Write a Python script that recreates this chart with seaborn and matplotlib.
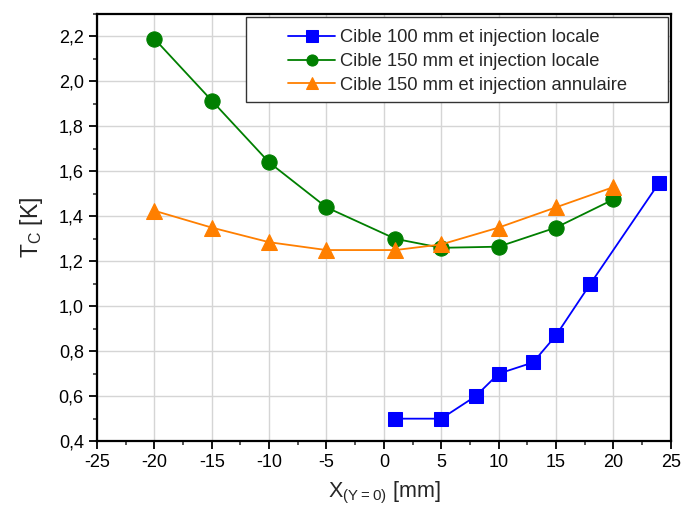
import numpy as np
import pandas as pd
import matplotlib
matplotlib.use('Agg')
import matplotlib.pyplot as plt
from matplotlib.ticker import MultipleLocator, FuncFormatter
from matplotlib.patches import Rectangle
import seaborn as sns

# Data
x_100_local = [1, 5, 8, 10, 13, 15, 18, 24]
tc_100_local = [0.50, 0.50, 0.60, 0.70, 0.75, 0.87, 1.10, 1.55]

x_150_local = [-20, -15, -10, -5, 1, 5, 10, 15, 20]
tc_150_local = [2.19, 1.915, 1.64, 1.44, 1.30, 1.26, 1.265, 1.35, 1.475]

x_150_annul = [-20, -15, -10, -5, 1, 5, 10, 15, 20]
tc_150_annul = [1.425, 1.35, 1.285, 1.25, 1.25, 1.275, 1.35, 1.44, 1.53]

labels = ['Cible 100 mm et injection locale',
          'Cible 150 mm et injection locale',
          'Cible 150 mm et injection annulaire']

sns.set_style('white')
plt.rcParams['font.family'] = ['Liberation Sans', 'DejaVu Sans']
plt.rcParams['mathtext.fontset'] = 'custom'
plt.rcParams['mathtext.rm'] = 'Liberation Sans'

fig = plt.figure(figsize=(6.83, 5.19), dpi=100)
ax = fig.add_axes([0.142, 0.150, 0.840, 0.823])

ax.grid(True, color='#d5d5d5', linewidth=1, zorder=0)
ax.set_axisbelow(True)

sns.lineplot(x=x_100_local, y=tc_100_local, ax=ax, color='#0000ff', marker='s',
             markersize=10, markeredgecolor='#0000ff', linewidth=1.3, label=labels[0])
sns.lineplot(x=x_150_local, y=tc_150_local, ax=ax, color='#007f00', marker='o',
             markersize=11, markeredgecolor='#007f00', linewidth=1.3, label=labels[1])
sns.lineplot(x=x_150_annul, y=tc_150_annul, ax=ax, color='#ff7f00', marker='^',
             markersize=12, markeredgecolor='#ff7f00', linewidth=1.3, label=labels[2])

ax.set_xlim(-25, 25)
ax.set_ylim(0.4, 2.3)
ax.xaxis.set_major_locator(MultipleLocator(5))
ax.xaxis.set_minor_locator(MultipleLocator(2.5))
ax.yaxis.set_major_locator(MultipleLocator(0.2))
ax.yaxis.set_minor_locator(MultipleLocator(0.1))
ax.yaxis.set_major_formatter(FuncFormatter(lambda v, p: f'{v:.1f}'.replace('.', ',')))
ax.xaxis.set_major_formatter(FuncFormatter(lambda v, p: f'{v:.0f}'))

ax.tick_params(which='major', direction='out', length=6, width=1.3, labelsize=13,
               bottom=True, left=True, colors='black')
ax.tick_params(which='minor', direction='out', length=3, width=1.1,
               bottom=True, left=True)
for s in ax.spines.values():
    s.set_color('black')
    s.set_linewidth(1.6)

ax.set_xlabel(r'X$_{\mathregular{(Y=0)}}$ [mm]', fontsize=15.5, labelpad=6)
ax.set_ylabel(r'T$_{\mathregular{C}}$ [K]', fontsize=16.5, labelpad=10)

# legend frame drawn separately so it can be wider than its content
frame = Rectangle((0.2596, 0.794), 0.7352, 0.199, transform=ax.transAxes,
                  facecolor='white', edgecolor='#333333', linewidth=1.0, zorder=4)
ax.add_patch(frame)
leg = ax.legend(loc='upper left', bbox_to_anchor=(0.333, 0.964), fontsize=13.2,
                frameon=False, borderaxespad=0.0, borderpad=0.0,
                handlelength=2.56, handletextpad=0.27, labelspacing=0.36)
leg.set_zorder(5)
for h in leg.legend_handles:
    h.set_markersize(8)

fig.savefig('out.png', dpi=100)
